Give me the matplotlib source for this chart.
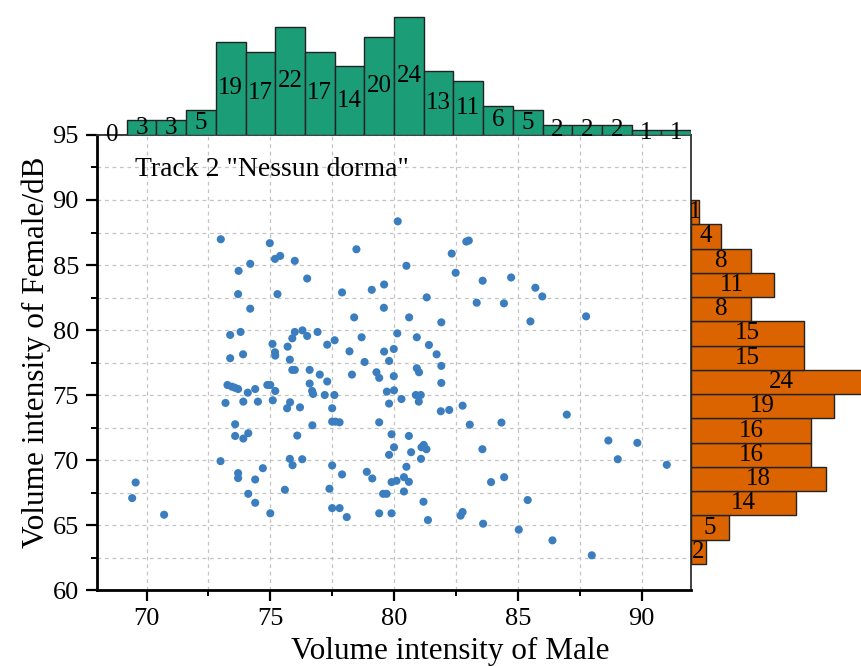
import matplotlib
matplotlib.use('Agg')
import matplotlib.pyplot as plt
from matplotlib.ticker import MultipleLocator
import numpy as np

plt.rcParams['font.family'] = ['Liberation Serif', 'DejaVu Serif']

# scatter points
male = [73.0, 74.98, 75.19, 75.4, 75.99, 76.49, 78.48, 80.15, 73.72, 74.19,
        73.7, 75.29, 74.19, 77.9, 79.1, 79.6, 79.59, 78.39, 73.38, 73.8,
        73.38, 73.9, 75.09, 75.19, 75.2, 75.7, 75.89, 75.99, 76.3, 76.49,
        76.91, 75.79, 75.89, 75.99, 76.59, 77.0, 77.3, 77.6, 78.2, 78.69,
        78.81, 78.3, 79.6, 79.8, 79.99, 80.13, 79.29, 79.4, 79.99, 77.3,
        76.59,
        82.92, 83.02, 82.33, 82.49, 80.5, 83.58, 84.73, 85.71, 85.99, 81.32,
        83.34, 84.44, 80.61, 81.91, 85.51, 87.76, 80.92, 81.41, 81.72, 80.92,
        81.01, 81.91, 81.91,
        73.27, 73.45, 73.57, 73.7, 74.09, 74.39, 74.88, 75.0, 75.2, 73.19,
        73.91, 74.5, 75.1, 75.8, 75.68, 76.2, 73.58, 73.58, 73.91, 74.11,
        76.09, 72.99, 73.7, 73.7, 74.39, 74.7, 75.79, 75.9, 76.29, 74.11,
        74.39, 75.0, 75.59, 69.56, 69.42, 70.71,
        76.69, 76.73, 77.2, 77.59, 77.5, 76.7, 77.5, 77.63, 77.8, 77.5,
        77.9, 77.39, 77.5, 77.8, 78.09, 78.9, 79.12, 79.4, 79.71, 80.0,
        79.8, 80.3, 80.88, 81.08, 81.0, 81.89, 82.23, 82.77, 83.06, 84.34,
        79.9, 80.6, 80.0, 79.8, 80.69, 81.11, 81.2, 81.31, 81.09, 80.5,
        80.4, 79.9, 80.1, 80.6, 80.4, 79.56, 79.7, 79.4, 79.9, 81.19,
        81.37, 82.69, 82.77, 83.57, 83.92, 83.6, 84.45,
        86.98, 88.66, 89.83, 89.04, 91.02, 85.4, 85.04, 86.4, 87.99]
female = [86.98, 86.68, 85.47, 85.7, 85.32, 83.96, 86.21, 88.36, 84.55, 85.09,
          82.76, 82.76, 81.64, 82.89, 83.09, 83.5, 81.71, 80.97, 79.62, 79.85,
          77.83, 78.13, 78.93, 78.29, 78.03, 78.72, 79.36, 79.85, 79.97, 79.54,
          79.85, 77.72, 76.93, 76.93, 76.93, 76.57, 78.87, 79.21, 78.36, 79.44,
          77.54, 76.57, 78.34, 77.62, 78.54, 79.74, 76.75, 76.32, 76.45, 76.04,
          75.88,
          86.8, 86.88, 85.88, 84.4, 84.94, 83.79, 84.04, 83.25, 82.58, 82.51,
          82.1, 82.05, 80.97, 80.59, 80.66, 81.05, 79.44, 78.85, 78.13, 77.06,
          76.75, 77.24, 75.93,
          75.77, 75.64, 75.56, 75.46, 75.18, 75.46, 75.77, 75.77, 75.31, 74.39,
          74.49, 74.49, 74.59, 74.44, 73.98, 74.05, 72.75, 71.85, 71.65, 72.06,
          71.88, 69.91, 68.99, 68.61, 68.5, 69.37, 70.09, 69.6, 70.06, 67.4,
          66.71, 65.9, 67.71, 68.27, 67.07, 65.79,
          75.31, 75.08, 75.0, 75.0, 73.98, 72.67, 72.95, 72.95, 72.9, 69.58,
          68.89, 67.79, 66.3, 66.3, 65.61, 69.09, 68.58, 72.9, 75.26, 75.36,
          74.34, 74.69, 75.0, 75.0, 74.49, 73.75, 73.85, 74.18, 72.72, 72.88,
          71.98, 71.85, 70.98, 70.4, 70.6, 70.98, 71.16, 70.83, 70.09, 69.48,
          68.68, 68.3, 68.4, 68.32, 67.58, 67.4, 67.4, 65.9, 65.9, 66.79,
          65.38, 65.72, 66.0, 70.83, 68.3, 65.1, 68.68,
          73.49, 71.5, 71.32, 70.06, 69.63, 66.92, 64.64, 63.82, 62.67]

# marginal histograms (bin edges + labelled counts)
male_edges = np.linspace(68, 92, 21)
male_counts = [0, 3, 3, 5, 19, 17, 22, 17, 14, 20, 24, 13, 11, 6, 5, 2, 2, 2, 1, 1]
female_edges = np.linspace(62, 90, 16)
female_counts = [2, 5, 14, 18, 16, 16, 19, 24, 15, 15, 8, 11, 8, 4, 1]

green = '#1b9e77'
orange = '#dc6400'
blue = '#3a7ebf'

fig = plt.figure(figsize=(8.61, 6.66), dpi=100)
ax = fig.add_axes([0.1127, 0.1141, 0.6899, 0.6832])
ax_top = fig.add_axes([0.1127, 0.7973, 0.6899, 0.2027])
ax_right = fig.add_axes([0.8026, 0.1141, 0.1974, 0.6832])

ax.scatter(male, female, s=34, color=blue, edgecolors='none', zorder=3)
ax.set_xlim(68, 92)
ax.set_ylim(60, 95)
ax.xaxis.set_major_locator(MultipleLocator(5))
ax.xaxis.set_minor_locator(MultipleLocator(2.5))
ax.yaxis.set_major_locator(MultipleLocator(5))
ax.yaxis.set_minor_locator(MultipleLocator(2.5))
ax.grid(which='both', ls='--', color='#c4c4c4', lw=0.9, dashes=(3, 3))
ax.set_axisbelow(True)
for s in ['left', 'bottom']:
    ax.spines[s].set_linewidth(2)
for s in ['top', 'right']:
    ax.spines[s].set_linewidth(1.3)
    ax.spines[s].set_color('#333333')
ax.tick_params(which='major', direction='out', length=8, width=1.6, labelsize=19, pad=5)
ax.tick_params(which='minor', direction='out', length=4.5, width=1.4)
ax.set_xlabel('Volume intensity of Male', fontsize=22.5)
ax.set_ylabel('Volume intensity of Female/dB', fontsize=22.5)
ax.xaxis.set_label_coords(0.594, -0.104)
ax.yaxis.set_label_coords(-0.078, 0.523)
ax.text(69.55, 92.35, 'Track 2 "Nessun dorma"', fontsize=20, ha='left', va='center')

# top histogram
w = male_edges[1] - male_edges[0]
ax_top.bar(male_edges[:-1], male_counts, width=w, align='edge',
           color=green, edgecolor='#222222', linewidth=1)
for x0, c in zip(male_edges[:-1], male_counts):
    ax_top.text(x0 + w / 2, c / 2, str(c), ha='center', va='center', fontsize=18)
ax_top.set_xlim(68, 92)
ax_top.set_ylim(0, 27.5)
ax_top.axis('off')

# right histogram
h = female_edges[1] - female_edges[0]
ax_right.barh(female_edges[:-1], female_counts, height=h, align='edge',
              color=orange, edgecolor='#222222', linewidth=1)
for y0, c in zip(female_edges[:-1], female_counts):
    ax_right.text(c / 2, y0 + h / 2, str(c), ha='center', va='center', fontsize=18)
ax_right.set_ylim(60, 95)
ax_right.set_xlim(0, 22.6)
ax_right.axis('off')

fig.savefig('out.png', dpi=100)
